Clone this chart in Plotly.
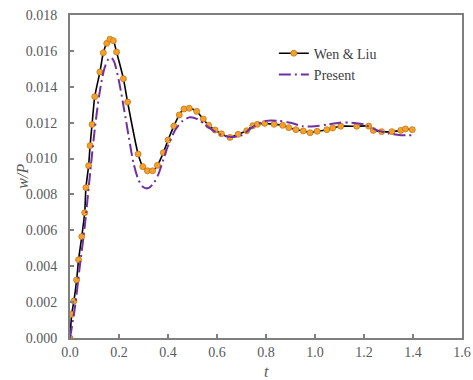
import plotly.graph_objects as go

# Wen & Liu (markers)
wen_t = [0.0, 0.007, 0.016, 0.027, 0.035, 0.048, 0.060, 0.065, 0.076, 0.082, 0.090, 0.101, 0.122,
         0.136, 0.150, 0.163, 0.177, 0.190, 0.218, 0.235, 0.278, 0.297, 0.316, 0.337, 0.357,
         0.381, 0.400, 0.424, 0.446, 0.465, 0.487, 0.517, 0.544, 0.566, 0.592, 0.618, 0.653,
         0.686, 0.721, 0.746, 0.765, 0.795, 0.833, 0.868, 0.893, 0.922, 0.952, 0.980, 1.009,
         1.048, 1.072, 1.105, 1.170, 1.219, 1.238, 1.272, 1.314, 1.350, 1.369, 1.397]
wen_w = [0.0, 0.00132, 0.00206, 0.00323, 0.00436, 0.00565, 0.00698, 0.00838, 0.0096, 0.01072,
         0.0119, 0.01345, 0.01482, 0.0159, 0.01642, 0.01665, 0.01657, 0.01594, 0.01445, 0.01315,
         0.01025, 0.00955, 0.00932, 0.00932, 0.00962, 0.01033, 0.01103, 0.01181, 0.01243,
         0.01276, 0.0128, 0.01263, 0.0122, 0.01185, 0.01159, 0.01138, 0.01118, 0.01135, 0.01155,
         0.01183, 0.01191, 0.01196, 0.01191, 0.01185, 0.01172, 0.01161, 0.01154, 0.01144,
         0.01152, 0.01161, 0.0117, 0.0118, 0.0118, 0.01181, 0.01157, 0.0115, 0.0115, 0.01157,
         0.01165, 0.01161]

# Present (dash-dot)
pre_t = [0.0, 0.02, 0.04, 0.06, 0.08, 0.10, 0.12, 0.14, 0.16, 0.17, 0.18, 0.20, 0.22, 0.24,
         0.26, 0.28, 0.30, 0.32, 0.34, 0.36, 0.38, 0.40, 0.43, 0.46, 0.49, 0.52, 0.55, 0.58,
         0.62, 0.66, 0.70, 0.75, 0.80, 0.85, 0.90, 0.95, 1.00, 1.05, 1.10, 1.15, 1.20, 1.25,
         1.30, 1.35, 1.40]
pre_w = [0.0, 0.0017, 0.0040, 0.0062, 0.0089, 0.0115, 0.0136, 0.0150, 0.0156, 0.0156, 0.0154,
         0.0143, 0.0128, 0.0112, 0.0097, 0.0088, 0.0084, 0.00835, 0.0086, 0.0091, 0.0099,
         0.0107, 0.0116, 0.0121, 0.0123, 0.0122, 0.0119, 0.0116, 0.0113, 0.0112, 0.0113,
         0.0118, 0.0121, 0.0121, 0.0120, 0.0118, 0.0118, 0.0119, 0.0120, 0.0120, 0.0119,
         0.0116, 0.0114, 0.0113, 0.0113]

x_ticks = [0.0, 0.2, 0.4, 0.6, 0.8, 1.0, 1.2, 1.4, 1.6]
y_ticks = [0.000, 0.002, 0.004, 0.006, 0.008, 0.010, 0.012, 0.014, 0.016, 0.018]

FONT = "Liberation Serif, Times New Roman, Times, serif"
GRAY = "#595959"
AX = "#7f7f7f"

fig = go.Figure()
fig.add_trace(go.Scatter(
    x=wen_t, y=wen_w, name="Wen & Liu", mode="lines+markers",
    line=dict(color="black", width=1.6, shape="spline", smoothing=0.6),
    marker=dict(color="#F5A02A", size=6, line=dict(color="#C07818", width=0.8)),
))
fig.add_trace(go.Scatter(
    x=pre_t, y=pre_w, name="Present", mode="lines",
    line=dict(color="#7030A0", width=2, dash="12px,4px,2px,4px", shape="spline", smoothing=0.8),
))

fig.update_layout(
    width=473, height=380,
    margin=dict(l=70, r=11, t=15, b=42),
    paper_bgcolor="white", plot_bgcolor="white",
    font=dict(family=FONT, color=GRAY, size=14),
    showlegend=True,
    legend=dict(x=0.52, y=0.93, xanchor="left", yanchor="top",
                bgcolor="rgba(0,0,0,0)", font=dict(family=FONT, size=14, color="#404040"),
                itemwidth=30, tracegroupgap=0),
    annotations=[
        dict(text="<i>w/P</i>", x=-0.122, y=0.5, xref="paper", yref="paper",
             xanchor="center", yanchor="middle", textangle=-90, showarrow=False,
             font=dict(family=FONT, size=16, color=GRAY)),
        dict(text="<i>t</i>", x=0.5, y=-0.105, xref="paper", yref="paper",
             xanchor="center", yanchor="middle", showarrow=False,
             font=dict(family=FONT, size=16, color=GRAY)),
    ],
)
fig.update_xaxes(
    range=[0, 1.6], tickvals=x_ticks, ticktext=[f"{v:.1f}" for v in x_ticks],
    showgrid=False, zeroline=False, showline=True, linecolor=AX, linewidth=2,
    mirror=True, ticks="inside", ticklen=4, tickcolor=AX, tickwidth=1.5,
    tickfont=dict(family=FONT, size=14, color=GRAY), automargin=False,
)
fig.update_yaxes(
    range=[0, 0.018], tickvals=y_ticks, ticktext=[f"{v:.3f}" for v in y_ticks],
    showgrid=False, zeroline=False, showline=True, linecolor=AX, linewidth=2,
    mirror=True, ticks="inside", ticklen=4, tickcolor=AX, tickwidth=1.5,
    tickfont=dict(family=FONT, size=14, color=GRAY), ticklabelstandoff=8, automargin=False,
)

fig.write_html("out.html")
